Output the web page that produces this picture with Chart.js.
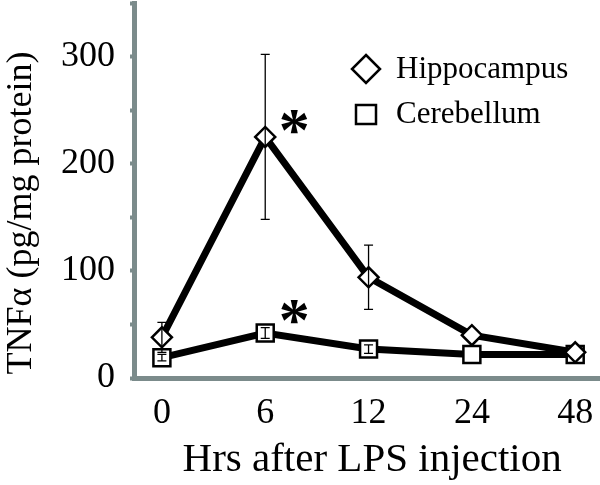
<!DOCTYPE html>
<html>
<head>
<meta charset="utf-8">
<script src="https://cdn.jsdelivr.net/npm/chart.js@4"></script>
<style>
  html, body { margin: 0; padding: 0; background: #fff; }
  #wrap { width: 600px; height: 485px; }
</style>
</head>
<body>
<div id="wrap"><canvas id="c"></canvas></div>
<script>
// time points (hours after LPS)
const hours = ['0', '6', '12', '24', '48'];
// TNFa, pg/mg protein
const hippocampus = [38, 225, 94, 40, 24];
const hippocampusErr = [14, 77, 30, 0, 0];
const cerebellum = [19, 42, 27, 22, 22];
const cerebellumErr = [3, 5, 4, 0, 0];
// significance marks (index of time point)
const starred = [1];

const AXIS = '#7b8b8b';
const SERIF = '"Liberation Serif", "DejaVu Serif", serif';

const errorBars = {
  id: 'errorBars',
  afterDatasetsDraw(chart) {
    const ctx = chart.ctx, x = chart.scales.x, y = chart.scales.y;
    ctx.save();
    ctx.strokeStyle = '#000';
    ctx.lineWidth = 1.3;
    [[hippocampus, hippocampusErr], [cerebellum, cerebellumErr]].forEach(([vals, errs]) => {
      vals.forEach((v, i) => {
        if (!errs[i]) return;
        const px = x.getPixelForValue(i);
        const top = y.getPixelForValue(v + errs[i]);
        const bot = y.getPixelForValue(v - errs[i]);
        ctx.beginPath();
        ctx.moveTo(px, top); ctx.lineTo(px, bot);
        ctx.moveTo(px - 4.5, top); ctx.lineTo(px + 4.5, top);
        ctx.moveTo(px - 4.5, bot); ctx.lineTo(px + 4.5, bot);
        ctx.stroke();
      });
    });
    // asterisks next to the 6 h points
    ctx.fillStyle = '#000';
    ctx.font = 'bold 62px ' + SERIF;
    ctx.textAlign = 'center';
    ctx.textBaseline = 'middle';
    starred.forEach(i => {
      const px = x.getPixelForValue(i) + 29;
      ctx.fillText('*', px, y.getPixelForValue(hippocampus[i]) - 3);
      ctx.fillText('*', px, y.getPixelForValue(cerebellum[i]) - 9);
    });
    ctx.restore();
  }
};

const legendBox = {
  id: 'legendBox',
  afterDraw(chart) {
    const ctx = chart.ctx;
    ctx.save();
    ctx.strokeStyle = '#000';
    ctx.lineWidth = 2.5;
    ctx.fillStyle = '#fff';
    // diamond
    ctx.beginPath();
    ctx.moveTo(366, 55); ctx.lineTo(380, 69); ctx.lineTo(366, 83); ctx.lineTo(352, 69); ctx.closePath();
    ctx.fill(); ctx.stroke();
    // square
    ctx.beginPath();
    ctx.rect(356, 105, 20, 19);
    ctx.fill(); ctx.stroke();
    ctx.fillStyle = '#000';
    ctx.font = '31px ' + SERIF;
    ctx.textAlign = 'left';
    ctx.textBaseline = 'middle';
    ctx.fillText('Hippocampus', 396, 70);
    ctx.fillText('Cerebellum', 396, 115);
    ctx.restore();
  }
};

new Chart(document.getElementById('c'), {
  type: 'line',
  data: {
    datasets: [
      {
        label: 'Hippocampus',
        data: hippocampus.map((v, i) => ({x: i, y: v})),
        borderColor: '#000',
        borderWidth: 7,
        pointStyle: 'rectRot',
        pointRadius: 10,
        pointBorderWidth: 2.5,
        pointBackgroundColor: '#fff',
        pointBorderColor: '#000',
        tension: 0,
        clip: false
      },
      {
        label: 'Cerebellum',
        data: cerebellum.map((v, i) => ({x: i, y: v})),
        borderColor: '#000',
        borderWidth: 7,
        pointStyle: 'rect',
        pointRadius: 12,
        pointBorderWidth: 2.5,
        pointBackgroundColor: '#fff',
        pointBorderColor: '#000',
        tension: 0,
        clip: false
      }
    ]
  },
  options: {
    responsive: true,
    maintainAspectRatio: false,
    animation: false,
    layout: { autoPadding: false, padding: { top: 3, right: 0, left: 0, bottom: 0 } },
    plugins: {
      legend: { display: false },
      tooltip: { enabled: false }
    },
    scales: {
      x: {
        type: 'linear',
        min: -0.27,
        max: 4.24,
        afterBuildTicks: s => { s.ticks = hours.map((h, i) => ({value: i})); },
        afterFit: s => { s.height = 107; s.paddingLeft = 0; s.paddingRight = 0; },
        ticks: {
          callback: v => hours[v],
          color: '#000',
          font: { family: SERIF, size: 36 },
          padding: 6,
          maxRotation: 0
        },
        grid: { display: false },
        border: { color: AXIS, width: 5 },
        title: {
          display: true,
          text: ' Hrs after LPS injection',
          color: '#000',
          font: { family: SERIF, size: 41 },
          padding: { top: 0, bottom: 0 }
        }
      },
      y: {
        min: 0,
        max: 350,
        afterFit: s => { s.width = 134; s.paddingTop = 0; s.paddingBottom = 0; },
        ticks: {
          stepSize: 50,
          callback: v => (v % 100 === 0 && v <= 300) ? v : '',
          color: '#000',
          font: { family: SERIF, size: 36 },
          padding: 15
        },
        grid: {
          drawOnChartArea: false,
          drawTicks: true,
          tickLength: 4,
          tickWidth: 4,
          tickColor: AXIS
        },
        border: { color: AXIS, width: 5 },
        title: {
          display: true,
          text: 'TNFα (pg/mg protein)     ',
          color: '#000',
          font: { family: SERIF, size: 36 },
          padding: { top: 0, bottom: 0 }
        }
      }
    }
  },
  plugins: [errorBars, legendBox]
});
</script>
</body>
</html>
